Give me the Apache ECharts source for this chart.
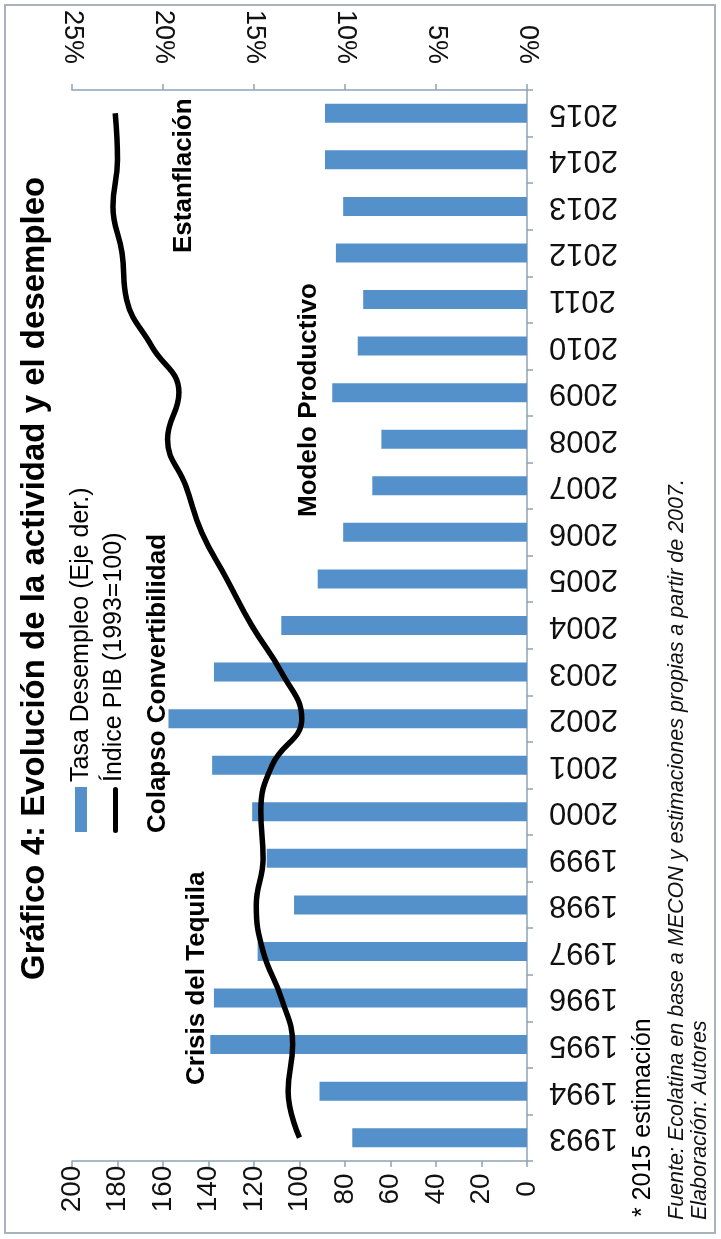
<!DOCTYPE html>
<html>
<head>
<meta charset="utf-8">
<script src="https://cdn.jsdelivr.net/npm/echarts@6/dist/echarts.min.js"></script>
<style>
html,body{margin:0;padding:0;background:#ffffff;}
#chart{width:721px;height:1239px;}
</style>
</head>
<body>
<div id="chart"></div>
<script>
// ---- data ----
const years = ['1993','1994','1995','1996','1997','1998','1999','2000','2001','2002','2003','2004','2005','2006','2007','2008','2009','2010','2011','2012','2013','2014','2015'];
// Tasa de desempleo (%), eje derecho
const unemployment = [9.6, 11.4, 17.4, 17.2, 14.8, 12.8, 14.3, 15.1, 17.3, 19.7, 17.2, 13.5, 11.5, 10.1, 8.5, 8.0, 10.7, 9.3, 9.0, 10.5, 10.1, 11.1, 11.1];
// Índice PIB (1993=100)
const gdpIndex = [100, 105, 103, 108, 116, 119, 116, 117, 112, 99, 108, 121, 132, 143, 150, 158, 153, 165, 176, 178, 182, 180, 181];

const titleText = 'Gráfico 4: Evolución de la actividad y el desempleo';
const legendNames = ['Tasa Desempleo (Eje der.)', 'Índice PIB (1993=100)'];
const periodLabels = ['Crisis del Tequila', 'Colapso Convertibilidad', 'Modelo Productivo', 'Estanflación'];
const noteText = '* 2015 estimación';
const sourceText = 'Fuente: Ecolatina en base a MECON y estimaciones propias a partir de 2007.';
const authorText = 'Elaboración: Autores';

const FONT = '"Liberation Sans", Arial, Helvetica, sans-serif';
const BAR_COLOR = '#5490CA';
const AXIS_COLOR = '#8DA3B6';
const R = Math.PI / 2;

const chart = echarts.init(document.getElementById('chart'), null, {renderer: 'canvas'});

function vText(x, y, text, size, weight, style, color) {
  return {
    type: 'text', x: x, y: y, rotation: R, silent: true,
    style: {
      text: text, fill: color || '#000', font: (style || 'normal') + ' ' + (weight || 'normal') + ' ' + size + 'px ' + FONT,
      textAlign: 'left', textVerticalAlign: 'middle'
    }
  };
}

const option = {
  backgroundColor: '#ffffff',
  animation: false,
  grid: {left: 72, right: 194, top: 90, bottom: 78, containLabel: false},
  xAxis: [
    {
      type: 'value', position: 'top', min: 0, max: 25, interval: 5, inverse: true,
      axisLine: {show: true, lineStyle: {color: AXIS_COLOR, width: 1.5}},
      axisTick: {show: true, length: 6, lineStyle: {color: AXIS_COLOR, width: 1.5}},
      splitLine: {show: false},
      axisLabel: {rotate: 90, margin: 26, formatter: '{value}%',
        fontSize: 27, color: '#111', fontFamily: FONT}
    },
    {
      type: 'value', position: 'bottom', min: 0, max: 200, interval: 20, inverse: true,
      axisLine: {show: true, lineStyle: {color: AXIS_COLOR, width: 1.5}},
      axisTick: {show: true, length: 6, lineStyle: {color: AXIS_COLOR, width: 1.5}},
      splitLine: {show: false},
      axisLabel: {rotate: 90, align: 'center', verticalAlign: 'middle', margin: 28,
        fontSize: 28, color: '#111', fontFamily: FONT}
    }
  ],
  yAxis: {
    type: 'category', position: 'right', data: years,
    axisLine: {show: true, lineStyle: {color: AXIS_COLOR, width: 1.5}},
    axisTick: {show: true, length: 6, lineStyle: {color: AXIS_COLOR, width: 1.5}},
    splitLine: {show: false},
    axisLabel: {rotate: 180, align: 'right', verticalAlign: 'middle', margin: 22,
      fontSize: 31, color: '#111', fontFamily: FONT}
  },
  series: [
    {
      name: legendNames[0], type: 'bar', xAxisIndex: 0, yAxisIndex: 0,
      data: unemployment, barWidth: 19, itemStyle: {color: BAR_COLOR}
    },
    {
      name: legendNames[1], type: 'line', xAxisIndex: 1, yAxisIndex: 0,
      data: gdpIndex.map((v, i) => [v, years[i]]),
      smooth: 0.45, symbol: 'none', lineStyle: {color: '#000', width: 5.5}
    }
  ],
  graphic: [
    {type: 'rect', silent: true, shape: {x: 5, y: 5, width: 710, height: 1228},
      style: {fill: 'none', stroke: '#A9B3BB', lineWidth: 2}},
    vText(35, 980, titleText, 33, 'bold'),
    // legend
    {type: 'rect', silent: true, shape: {x: 75, y: 787, width: 12, height: 45}, style: {fill: BAR_COLOR}},
    vText(81, 782, legendNames[0], 25),
    {type: 'rect', silent: true, shape: {x: 113, y: 787, width: 5, height: 46, r: 2.5}, style: {fill: '#000'}},
    vText(114, 782, legendNames[1], 25),
    // period annotations
    vText(197, 1085, periodLabels[0], 26, 'bold'),
    vText(158, 833, periodLabels[1], 26, 'bold'),
    vText(309, 517, periodLabels[2], 26, 'bold'),
    vText(184, 253, periodLabels[3], 26, 'bold'),
    // notes
    vText(643, 1217, noteText, 25),
    vText(677, 1220, sourceText, 21.5, 'normal', 'italic', '#111'),
    vText(700, 1220, authorText, 21.5, 'normal', 'italic', '#111')
  ]
};
chart.setOption(option);
</script>
</body>
</html>
